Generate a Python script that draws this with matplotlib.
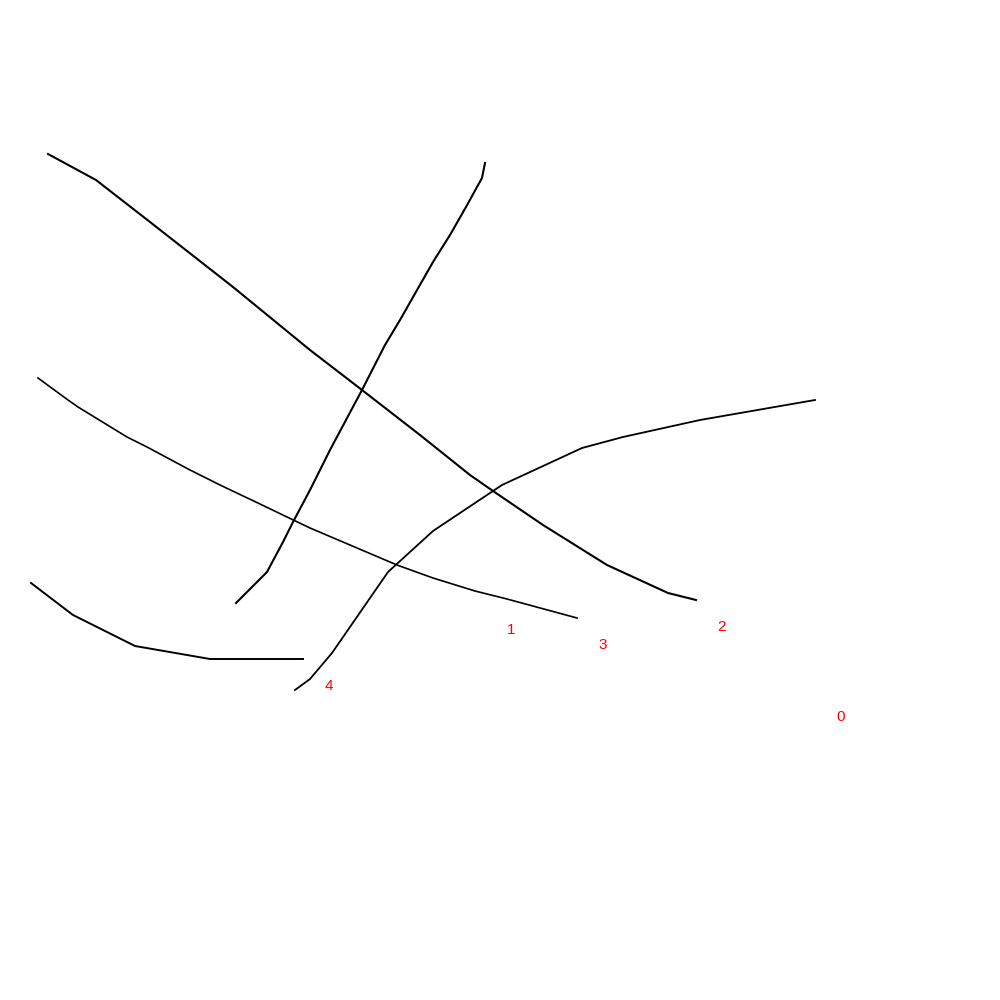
import matplotlib
matplotlib.use("Agg")
import matplotlib.pyplot as plt

# strokes (x, y in canvas units, y grows downward)
s0_x = [295, 310, 332, 388, 433, 502, 582, 623, 700, 815]
s0_y = [690, 679, 653, 572, 531, 485, 448, 437, 420, 400]

s1_x = [485, 482, 477, 466, 450, 433, 400, 385, 362, 330, 310, 293, 283, 267, 236]
s1_y = [163, 178, 187, 207, 235, 262, 320, 345, 390, 450, 490, 522, 542, 572, 603]

s2_x = [48, 96, 150, 233, 310, 362, 420, 470, 493, 543, 607, 668, 696]
s2_y = [154, 180, 222, 287, 350, 390, 435, 475, 491, 525, 565, 593, 600]

s3_x = [38, 68, 78, 127, 147, 190, 220, 260, 287, 310, 350, 397, 433, 475, 507, 577]
s3_y = [378, 400, 407, 437, 447, 470, 485, 504, 517, 528, 545, 565, 578, 591, 599, 618]

s4_x = [31, 73, 135, 210, 303]
s4_y = [583, 615, 646, 659, 659]

strokes = [(s0_x, s0_y), (s1_x, s1_y), (s2_x, s2_y), (s3_x, s3_y), (s4_x, s4_y)]
widths = [1.3, 1.5, 1.5, 1.2, 1.4]

fig = plt.figure(figsize=(10, 10), dpi=100)
ax = fig.add_axes([0, 0, 1, 1])
ax.set_xlim(0, 1000)
ax.set_ylim(1000, 0)
ax.axis('off')

for i, (xs, ys) in enumerate(strokes):
    ax.plot(xs, ys, color='black', lw=widths[i], solid_joinstyle='round')
    # label sits just past the bottom-right corner of the stroke
    ax.text(max(xs) + 26, max(ys) + 27, str(i), color='red', fontsize=11,
            family='Liberation Sans', ha='center', va='center')

fig.savefig('out.png', dpi=100, facecolor='white')
